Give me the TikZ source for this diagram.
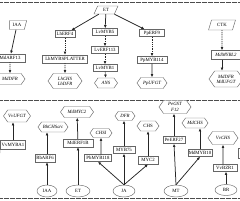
\documentclass[tikz,border=0pt]{standalone}
\usepackage{fontspec}
\setmainfont{Liberation Serif}
\usetikzlibrary{shapes.geometric,shapes.symbols,arrows.meta}
\begin{document}
\begin{tikzpicture}[x=1pt,y=-1pt,
  every node/.style={font=\fontsize{4.8}{5.2}\selectfont, inner sep=0.5pt, align=center},
  gbox/.style={draw=black!60, line width=0.45pt, fill=white, rectangle, minimum height=7pt},
  hexa/.style={draw=black!60, line width=0.45pt, fill=white, signal, signal to=west and east, signal pointer angle=110, font=\fontsize{4.8}{5.2}\selectfont\itshape},
  para/.style={draw=black!60, line width=0.45pt, fill=white, trapezium, trapezium stretches=true, trapezium left angle=70, trapezium right angle=110},
  ell/.style={draw=black!60, line width=0.45pt, fill=white, ellipse, inner sep=0pt},
  arr/.style={draw=black!85, line width=0.75pt, -{Latex[length=3.2pt,width=2.8pt]}},
  darr/.style={arr, dash pattern=on 1pt off 0.8pt},
  sep/.style={draw=black!70, line width=0.6pt, dash pattern=on 0.6pt off 0.6pt}
]
\useasboundingbox (0,0) rectangle (240,200);
% separators
\draw[sep] (0,2) -- (240,2);
\draw[sep] (0,100) -- (240,100);
\draw[sep] (0,198) -- (240,198);

% ---------- top panel ----------
\node[para, trapezium left angle=90, minimum width=17pt, minimum height=9pt] (iaa1) at (17,25) {IAA};
\node[gbox, minimum width=30pt, minimum height=8pt] (mdarf13) at (10,58) {MdARF13};
\node[hexa, minimum width=30pt, minimum height=11pt] (mddfr1) at (10,79) {MdDFR};

\node[para, minimum width=24pt, minimum height=8pt] (et1) at (106,10) {ET};
\node[gbox, minimum width=20pt] (lherf4) at (65,34) {LhERF4};
\node[gbox, minimum width=45pt, minimum height=8pt] (lhmyb) at (65,59) {LhMYBSPLATTER};
\node[hexa, minimum width=34pt, minimum height=15pt] (lhchs) at (65,81) {LhCHS\\LhDFR};

\node[gbox, minimum width=25pt] (lvmyb5) at (105,32) {LvMYB5};
\node[gbox, minimum width=27pt] (lverf113) at (105,50) {LvERF113};
\node[gbox, minimum width=24pt] (lvmyb1) at (105,68) {LvMYB1};
\node[hexa, minimum width=23pt, minimum height=10pt] (ans) at (106,83) {ANS};

\node[gbox, minimum width=25pt] (pperf9) at (152,33) {PpERF9};
\node[gbox, minimum width=30pt] (ppmyb114) at (152,60) {PpMYB114};
\node[hexa, minimum width=30pt, minimum height=11pt] (ppufgt) at (152,83) {PpUFGT};

\node[para, minimum width=27pt, minimum height=10pt] (ctk) at (222,25) {CTK};
\node[gbox, minimum width=30pt, minimum height=9pt, font=\fontsize{4.8}{5.2}\selectfont\itshape] (mdmybl2) at (226,55) {MdMYBL2};
\node[hexa, minimum width=34pt, minimum height=16pt] (mddfr2) at (226,79) {MdDFR\\MdUFGT};

\draw[arr] (iaa1) -- (mdarf13);
\draw[darr] (mdarf13) -- (mddfr1);
\draw[arr] (et1) -- (lherf4);
\draw[arr] (et1) -- (lvmyb5);
\draw[arr] (et1) -- (pperf9);
\draw[darr] (lherf4) -- (lhmyb);
\draw[darr] (lhmyb) -- (lhchs);
\draw[darr] (lvmyb5) -- (lverf113);
\draw[darr] (lverf113) -- (lvmyb1);
\draw[darr] (lvmyb1) -- (ans);
\draw[darr] (pperf9) -- (ppmyb114);
\draw[arr] (ppmyb114) -- (ppufgt);
\draw[darr] (ctk) -- (ctk |- mdmybl2.north);
\draw[arr] (ctk |- mdmybl2.south) -- (ctk |- mddfr2.north);

% ---------- bottom panel ----------
\node[hexa, minimum width=25pt, minimum height=12pt] (vvufgt) at (17,116) {VvUFGT};
\node[gbox, minimum width=25pt, minimum height=9pt] (vvmyba1) at (13,145) {VvMYBA1};
\coordinate (srcv) at (-12,179);

\node[hexa, minimum width=30pt, minimum height=10pt] (bhchs) at (53,127) {BhCHSa/c};
\node[gbox, minimum width=20pt, minimum height=8pt] (rbarf6) at (45,158) {RbARF6};
\node[ell, minimum width=20pt, minimum height=12pt] (iaa2) at (47,191) {IAA};

\node[hexa, minimum width=33pt, minimum height=11pt] (mdmyc2) at (77,112) {MdMYC2};
\node[gbox, minimum width=30pt, minimum height=8pt] (mderf1b) at (78,143) {MdERF1B};
\node[ell, minimum width=24pt, minimum height=12pt] (et2) at (78,191) {ET};

\node[hexa, minimum width=22pt, minimum height=9pt] (chsi) at (101,133) {CHSI};
\node[gbox, minimum width=27pt] (pbmyb118) at (98,158) {PbMYB118};
\node[hexa, minimum width=20pt, minimum height=9pt] (dfr) at (125,116) {DFR};
\node[gbox, minimum width=22pt] (myb75) at (124,150) {MYB75};
\node[ell, minimum width=22pt, minimum height=12pt] (ja) at (124,191) {JA};
\node[hexa, minimum width=22pt, minimum height=10pt, font=\fontsize{4.8}{5.2}\selectfont] (chs) at (148,126) {CHS};
\node[gbox, minimum width=20pt, minimum height=8pt] (myc2) at (148,160) {MYC2};

\node[hexa, minimum width=32pt, minimum height=13pt] (pegst) at (175,107) {PeGST\\F12};
\node[gbox, minimum width=22pt] (peerf27) at (174,140) {PeERF27};
\node[hexa, minimum width=26pt, minimum height=10pt] (mdchs) at (195,123) {MdCHS};
\node[gbox, minimum width=24pt] (mdmyb10) at (200,153) {MdMYB10};
\node[ell, minimum width=24pt, minimum height=12pt] (mt) at (176,191) {MT};

\node[hexa, minimum width=30pt, minimum height=13pt] (vvchs) at (223,138) {VvCHS};
\node[gbox, minimum width=24pt] (vvbzr1) at (225,168) {VvBZR1};
\node[ell, minimum width=22pt, minimum height=11pt] (br) at (226,190) {BR};
\node[gbox, minimum width=24pt, minimum height=10pt] (rightbox) at (250,153) {};

\draw[arr] (vvmyba1) -- (vvmyba1 |- vvufgt.south);
\draw[arr] (srcv) -- (vvmyba1.south west);
\draw[arr] (iaa2) -- (iaa2 |- rbarf6.south);
\draw[arr] (iaa2 |- rbarf6.north) -- (iaa2 |- bhchs.south);
\draw[arr] (et2) -- (mderf1b);
\draw[arr] (mderf1b) -- (mdmyc2);
\draw[arr] (ja.north) -- (pbmyb118.south);
\draw[arr] (ja) -- (myb75);
\draw[arr] (ja.north) -- (myc2.south);
\draw[arr] (pbmyb118.north -| chsi) -- (chsi);
\draw[arr] (myb75) -- (myb75 |- dfr.south);
\draw[arr] (myc2) -- (myc2 |- chs.south);
\draw[arr] (mt.north) -- (peerf27.south);
\draw[arr] (mt.north) -- (mdmyb10.south);
\draw[arr] (peerf27) -- (peerf27 |- pegst.south);
\draw[arr] (mdmyb10.north) -- (mdmyb10.north |- mdchs.south);
\draw[arr] (br) -- (br |- vvbzr1.south);
\draw[arr] (vvbzr1.north -| vvchs) -- (vvchs);
\end{tikzpicture}
\end{document}
